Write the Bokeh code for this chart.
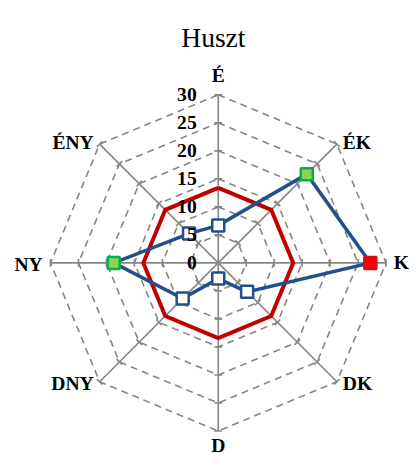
import numpy as np
from bokeh.plotting import figure
from bokeh.models import ColumnDataSource, Range1d
from bokeh.core.properties import value
from bokeh.embed import file_html
from bokeh.resources import INLINE

# ---------------- data ----------------
title_text = "Huszt"
categories = ["É", "ÉK", "K", "DK", "D", "DNY", "NY", "ÉNY"]
series_values = [6.7, 22.4, 27.2, 7.3, 2.8, 9.0, 18.7, 7.4]
reference_values = [13.4, 13.4, 13.4, 13.4, 13.4, 13.4, 13.4, 13.4]
radial_ticks = [0, 5, 10, 15, 20, 25, 30]
radial_tick_labels = ["0", "5", "10", "15", "20", "25", "30"]

# ---------------- layout ----------------
REF_W, REF_H = 419.0, 466.0
W, H = 411, 458
PX = 171.0 / 30.0          # reference pixels per radial unit
CX, CY = 222.0, 267.0      # centre in reference pixels
K = W / REF_W              # screen scale
RMAX = radial_ticks[-1]
FONT = "Liberation Serif"
FS = "%.1fpx" % (20 * K)

n = len(categories)
ang = np.deg2rad(90.0 - 45.0 * np.arange(n))
ca, sa = np.cos(ang), np.sin(ang)

p = figure(width=W, height=H, output_backend="svg", toolbar_location=None,
           x_axis_type=None, y_axis_type=None, min_border=0,
           x_range=Range1d((0 - CX) / PX, (REF_W - CX) / PX),
           y_range=Range1d((CY - REF_H) / PX, CY / PX))
p.outline_line_color = None
p.grid.visible = False
p.background_fill_color = "white"
p.border_fill_color = "white"

GRID_C = "#868686"

# dashed octagon gridlines
gx, gy = [], []
for r in radial_ticks[1:]:
    gx.append(list(r * ca) + [r * ca[0]])
    gy.append(list(r * sa) + [r * sa[0]])
p.multi_line(gx, gy, line_color=GRID_C, line_width=1.6, line_dash="7 5")

# spokes
p.segment(x0=np.zeros(n), y0=np.zeros(n), x1=RMAX * ca, y1=RMAX * sa,
          line_color=GRID_C, line_width=1.6)

# tick marks on spokes
tl = 4.0 / PX
tx0, ty0, tx1, ty1 = [], [], [], []
for i in range(n):
    px_, py_ = -sa[i], ca[i]
    for r in radial_ticks[1:]:
        bx, by = r * ca[i], r * sa[i]
        tx0.append(bx - tl * px_); ty0.append(by - tl * py_)
        tx1.append(bx + tl * px_); ty1.append(by + tl * py_)
p.segment(tx0, ty0, tx1, ty1, line_color=GRID_C, line_width=1.6)

# reference (red) line
rv = np.array(reference_values)
p.line(list(rv * ca) + [rv[0] * ca[0]], list(rv * sa) + [rv[0] * sa[0]],
       line_color="#C00000", line_width=4, line_join="miter")

# series (blue) line
sv = np.array(series_values)
p.line(list(sv * ca) + [sv[0] * ca[0]], list(sv * sa) + [sv[0] * sa[0]],
       line_color="#23508A", line_width=3.5, line_join="miter")

# markers: largest red, next two green, others hollow
order = np.argsort(sv)[::-1]
fill, line = [], []
for i in range(n):
    rank = int(np.where(order == i)[0][0])
    if rank == 0:
        fill.append("#FF0000"); line.append("#D01010")
    elif rank <= 2:
        fill.append("#92D050"); line.append("#00B050")
    else:
        fill.append("white"); line.append("#23508A")
src = ColumnDataSource(dict(x=sv * ca, y=sv * sa, f=fill, l=line))
p.scatter("x", "y", source=src, marker="square", size=12,
          fill_color="f", line_color="l", line_width=2.5)

# radial tick labels
p.text(x=[-22.0 / PX] * len(radial_ticks), y=radial_ticks, text=radial_tick_labels,
       text_font=value(FONT), text_font_style="bold", text_font_size=FS,
       text_align="right", text_baseline="middle", text_color="black")

# category labels
lx, ly, la = [], [], []
for i in range(n):
    c, s_ = ca[i], sa[i]
    if abs(c) < 1e-6:
        lx.append(0.0)
        off = 20.0 if s_ > 0 else 15.0
        ly.append((RMAX + off / PX) * np.sign(s_))
        la.append("center")
    elif c > 0:
        lx.append(RMAX * c + (6.0 if abs(s_) > 1e-6 else 8.0) / PX)
        ly.append(RMAX * s_ + 2.0 * np.sign(s_) / PX)
        la.append("left")
    else:
        lx.append(RMAX * c - (6.0 if abs(s_) > 1e-6 else 8.0) / PX)
        ly.append(RMAX * s_ + 2.0 * np.sign(s_) / PX)
        la.append("right")
csrc = ColumnDataSource(dict(x=lx, y=ly, t=categories, a=la))
p.text("x", "y", text="t", source=csrc, text_align="a",
       text_font=value(FONT), text_font_style="bold", text_font_size=FS,
       text_baseline="middle", text_color="black")

# title
p.text(x=[(217 - CX) / PX], y=[(CY - 37.7) / PX], text=[title_text],
       text_font=value(FONT), text_font_size="%.1fpx" % (28 * K), text_align="center",
       text_baseline="alphabetic", text_color="black")

open("out.html", "w").write(file_html(p, INLINE))
